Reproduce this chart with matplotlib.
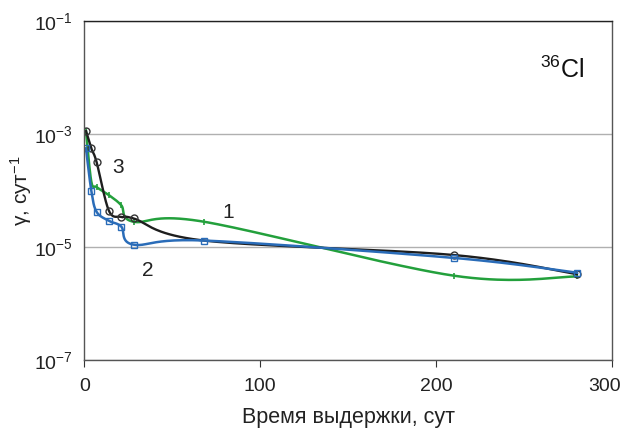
import numpy as np
import matplotlib
matplotlib.use("Agg")
import matplotlib.pyplot as plt
from matplotlib.transforms import ScaledTranslation

plt.rcParams['font.family'] = ['Liberation Sans', 'DejaVu Sans']
plt.rcParams['mathtext.fontset'] = 'custom'
plt.rcParams['mathtext.rm'] = 'Liberation Sans'
plt.rcParams['mathtext.it'] = 'Liberation Sans'
plt.rcParams['mathtext.default'] = 'rm'

# days of storage
days = [1, 4, 7, 14, 21, 28, 68, 210, 280]
# curve 1 (green)
g1 = [1.13e-3, 1.45e-4, 1.15e-4, 8.3e-5, 5.5e-5, 2.8e-5, 2.8e-5, 3.1e-6, 3.0e-6]
# curve 2 (blue)
g2 = [5.6e-4, 1.0e-4, 4.2e-5, 2.9e-5, 2.3e-5, 1.1e-5, 1.3e-5, 6.4e-6, 3.5e-6]
# curve 3 (black)
g3 = [1.13e-3, 5.6e-4, 3.2e-4, 4.4e-5, 3.4e-5, 3.2e-5, 1.3e-5, 7.2e-6, 3.3e-6]


def smooth(x, y, n=40):
    # excel-like smoothed line, done in (x, log y)
    x = np.asarray(x, float)
    ly = np.log10(y)
    pts = np.column_stack([x, ly])
    out = []
    t = np.linspace(0, 1, n)[:, None]
    for i in range(len(pts) - 1):
        p0 = pts[i]
        p3 = pts[i + 1]
        pm = pts[i - 1] if i > 0 else p0
        pp = pts[i + 2] if i + 2 < len(pts) else p3
        c1 = p0 + (p3 - pm) / 6
        c2 = p3 - (pp - p0) / 6
        seg = ((1 - t) ** 3) * p0 + 3 * ((1 - t) ** 2) * t * c1 + 3 * (1 - t) * t ** 2 * c2 + t ** 3 * p3
        out.append(seg)
    out = np.vstack(out)
    return out[:, 0], 10 ** out[:, 1]


fig, ax = plt.subplots(figsize=(6.24, 4.32), dpi=100)
fig.subplots_adjust(left=0.135, right=0.981, bottom=0.167, top=0.951)

green = '#23a03c'
blue = '#2a6cb8'
black = '#1e1e1e'

sx, sy = smooth(days, g1)
ax.plot(sx, sy, color=green, lw=1.8)
ax.plot(days, g1, ls='none', marker='|', ms=5, mec=green, mew=1.2)

sx, sy = smooth(days, g3)
ax.plot(sx, sy, color=black, lw=1.7)
ax.plot(days[:6] + days[7:], g3[:6] + g3[7:], ls='none', marker='o', ms=5,
        mfc='none', mec='#333333', mew=1.0)

sx, sy = smooth(days, g2)
ax.plot(sx, sy, color=blue, lw=1.8)
ax.plot(days, g2, ls='none', marker='s', ms=5, mfc='none', mec=blue, mew=1.0)

ax.set_yscale('log')
ax.set_ylim(1e-7, 1e-1)
ax.set_xlim(0, 300)
ax.set_xticks([0, 100, 200, 300])
ax.set_yticks([1e-7, 1e-5, 1e-3, 1e-1])
ax.set_yticklabels(['$10^{-7}$', '$10^{-5}$', '$10^{-3}$', '$10^{-1}$'])
ax.yaxis.set_minor_locator(matplotlib.ticker.NullLocator())
ax.tick_params(axis='both', labelsize=14, colors='#333333', length=5, width=0.8, pad=8)
ax.tick_params(axis='y', length=0)
for tl in ax.get_xticklabels() + ax.get_yticklabels():
    tl.set_color('#222222')
# keep the last x label inside the picture
last = ax.get_xticklabels()[-1]
last.set_transform(last.get_transform() + ScaledTranslation(-8 / 100, 0, fig.dpi_scale_trans))
ax.grid(axis='y', color='#b0b0b0', lw=1)
for s in ax.spines.values():
    s.set_color('#555555')
    s.set_linewidth(1)
ax.spines['top'].set_color('#222222')

ax.set_xlabel('Время выдержки, сут', fontsize=15.5, color='#222222', labelpad=9)
ax.set_ylabel('γ, сут$^{-1}$', fontsize=15, color='#222222')
ax.yaxis.set_label_coords(-0.095, 0.5)

ax.text(82, 4.0e-5, '1', fontsize=15, color='#222222', ha='center', va='center')
ax.text(36, 3.9e-6, '2', fontsize=15, color='#222222', ha='center', va='center')
ax.text(19, 2.6e-4, '3', fontsize=15, color='#222222', ha='center', va='center')
ax.text(284, 1.35e-2, '$^{36}$Cl', fontsize=18, color='#111111', ha='right', va='center')

fig.savefig('out.png', dpi=100)
